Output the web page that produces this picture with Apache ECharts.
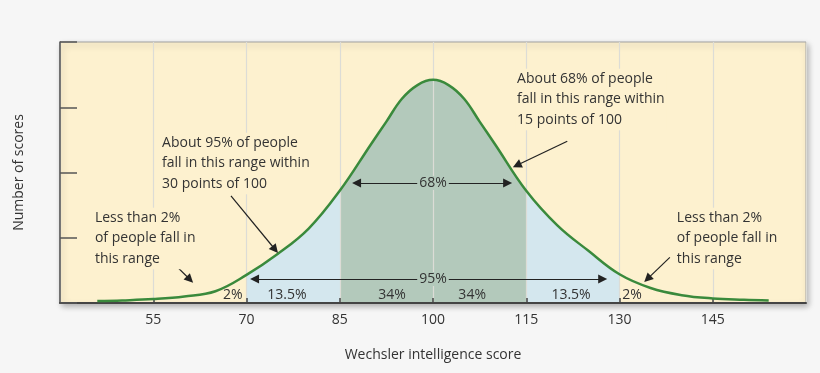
<!DOCTYPE html>
<html><head><meta charset="utf-8">
<script src="https://cdn.jsdelivr.net/npm/echarts@6/dist/echarts.min.js"></script>
<style>html,body{margin:0;padding:0;background:#f6f6f6}#c{width:820px;height:373px}</style>
</head><body><div id="c"></div><script>
// ---- data ----
const scores = [46, 50, 55, 60, 65, 70, 75, 80, 85, 90, 92.5, 95, 97.5, 100, 102.5, 105, 107.5, 110, 115, 120, 125, 130, 135, 140, 145, 150, 154];
const counts = [0.03, 0.04, 0.06, 0.10, 0.18, 0.43, 0.75, 1.14, 1.72, 2.43, 2.78, 3.13, 3.34, 3.42, 3.34, 3.13, 2.78, 2.43, 1.72, 1.19, 0.80, 0.44, 0.23, 0.12, 0.07, 0.05, 0.04];
const xTickLabels = ['55', '70', '85', '100', '115', '130', '145'];
const bandEdges = [70, 85, 115, 130];
const bandShares = ['2%', '13.5%', '34%', '34%', '13.5%', '2%'];
const spanLabels = ['68%', '95%'];
const notes = [
  'Less than 2%\nof people fall in\nthis range',
  'About 95% of people\nfall in this range within\n30 points of 100',
  'About 68% of people\nfall in this range within\n15 points of 100',
  'Less than 2%\nof people fall in\nthis range'
];

// ---- layout (data-space anchors for annotations) ----
const noteAt = [[45.3, 1.46], [56.1, 2.61], [113.2, 3.59], [138.9, 1.46]];
const shareAt = [[67.8, 0.123], [76.5, 0.123], [93.4, 0.123], [106.3, 0.123], [122.2, 0.123], [132.0, 0.123]];
const spanAt = [[100, 1.84], [100, 0.368]];
const spanArrows = [[[87.7, 1.84], [112.0, 1.84]], [[71.3, 0.368], [127.3, 0.368]]];
const pointerArrows = [
  [[57.7, 0.66], [60.9, 0.36]],
  [[67.5, 1.64], [74.6, 0.82]],
  [[121.6, 2.48], [113.5, 2.11]],
  [[138.1, 0.70], [134.5, 0.37]]
];

const cream = '#fdf1cf', sage = '#b3c9bb', blue = '#d4e7ee', green = '#3a8a3c', ink = '#333';
const FONT = '"Open Sans", "Noto Sans", sans-serif';

const pts = scores.map((s, i) => [s, counts[i]]);
const x0 = scores[0], x1 = scores[scores.length - 1];
const off = v => (v - x0) / (x1 - x0);
const T = 'rgba(0,0,0,0)';
const fillGrad = new echarts.graphic.LinearGradient(0, 0, 1, 0, [
  { offset: 0, color: T }, { offset: off(bandEdges[0]), color: T },
  { offset: off(bandEdges[0]), color: blue }, { offset: off(bandEdges[1]), color: blue },
  { offset: off(bandEdges[1]), color: sage }, { offset: off(bandEdges[2]), color: sage },
  { offset: off(bandEdges[2]), color: blue }, { offset: off(bandEdges[3]), color: blue },
  { offset: off(bandEdges[3]), color: T }, { offset: 1, color: T }
]);

const arrowLines = [];
spanArrows.forEach(a => arrowLines.push([{ coord: a[0], symbol: 'triangle' }, { coord: a[1], symbol: 'triangle' }]));
pointerArrows.forEach(a => arrowLines.push([{ coord: a[0], symbol: 'none' }, { coord: a[1], symbol: 'triangle' }]));

const chart = echarts.init(document.getElementById('c'));
chart.setOption({
  animation: false,
  textStyle: { fontFamily: FONT },
  grid: { left: 60, top: 42, right: 14, bottom: 70, show: true, backgroundColor: cream,
    borderColor: '#a0a0a0', borderWidth: 1, shadowColor: 'rgba(0,0,0,0.3)', shadowBlur: 6,
    shadowOffsetX: 2, shadowOffsetY: 3 },
  xAxis: {
    type: 'value', min: 40, max: 160, interval: 15, z: 3,
    name: 'Wechsler intelligence score', nameLocation: 'middle', nameGap: 45,
    nameTextStyle: { fontSize: 14, color: ink, fontFamily: FONT },
    axisLine: { lineStyle: { color: '#444', width: 2 } },
    axisTick: { inside: true, length: 5, lineStyle: { color: '#444', width: 1.5 } },
    axisLabel: { showMinLabel: false, showMaxLabel: false, fontSize: 14, color: ink, margin: 10,
      formatter: v => xTickLabels[Math.round((v - 55) / 15)] || '' },
    splitLine: { show: true, lineStyle: { color: '#dcdcd6', width: 1.2 } }
  },
  yAxis: {
    type: 'value', min: 0, max: 4, interval: 1, z: 3,
    name: 'Number of scores', nameLocation: 'middle', nameGap: 34,
    nameTextStyle: { fontSize: 14, color: ink, fontFamily: FONT },
    axisLine: { show: true, lineStyle: { color: '#555', width: 1.5 } },
    axisTick: { show: true, inside: true, length: 17, lineStyle: { color: '#555', width: 1.5 } },
    axisLabel: { show: false },
    splitLine: { show: false }
  },
  series: [
    { type: 'line', data: pts, smooth: 0.4, showSymbol: false, silent: true, z: 1,
      lineStyle: { width: 0 }, areaStyle: { color: fillGrad, opacity: 1 } },
    { type: 'line', data: pts, smooth: 0.4, showSymbol: false, silent: true, z: 4,
      lineStyle: { color: green, width: 2.5 },
      markLine: { silent: true, symbolSize: 9, label: { show: false }, emphasis: { disabled: true },
        lineStyle: { color: '#222', width: 1.2, type: 'solid' }, data: arrowLines } }
  ]
});

const px = p => chart.convertToPixel({ gridIndex: 0 }, p);
const g = [];
notes.forEach((t, i) => {
  const p = px(noteAt[i]);
  g.push({ type: 'text', x: p[0], y: p[1], z: 10, silent: true,
    style: { text: t, font: '14px ' + FONT, fill: ink, lineHeight: 20.5, align: 'left', verticalAlign: 'top',
      backgroundColor: cream, padding: [0, 2] } });
});
bandShares.forEach((t, i) => {
  const p = px(shareAt[i]);
  g.push({ type: 'text', x: p[0], y: p[1], z: 10, silent: true,
    style: { text: t, font: '14px ' + FONT, fill: ink, align: 'center', verticalAlign: 'middle' } });
});
spanLabels.forEach((t, i) => {
  const p = px(spanAt[i]);
  g.push({ type: 'text', x: p[0], y: p[1], z: 10, silent: true,
    style: { text: t, font: '14px ' + FONT, fill: ink, align: 'center', verticalAlign: 'middle',
      backgroundColor: sage, padding: [0, 2] } });
});
chart.setOption({ graphic: g });
</script></body></html>
